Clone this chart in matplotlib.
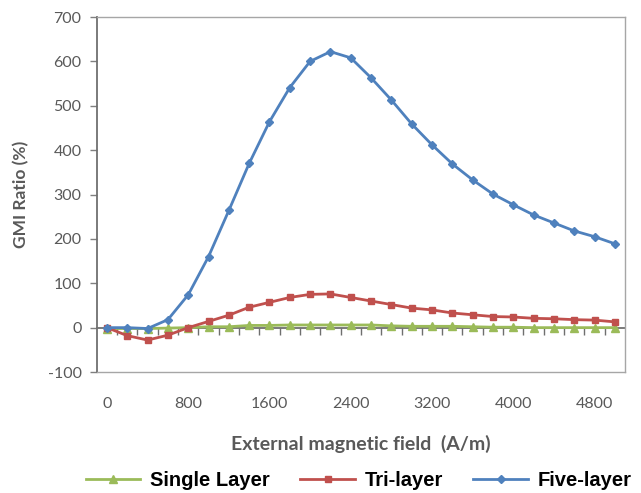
import matplotlib
matplotlib.use("Agg")
import matplotlib.pyplot as plt
import numpy as np

plt.rcParams["axes.unicode_minus"] = False
plt.rcParams["font.family"] = ["Lato", "DejaVu Sans"]

# field values (A/m), one category per 200 A/m
field = list(range(0, 5001, 200))
tick_labels = ["0", "800", "1600", "2400", "3200", "4000", "4800"]

single = [-2, -2, -2, -1, 0, 2, 2, 5, 5, 6, 6, 6, 6, 6, 4, 3, 3, 3, 2, 1, 1, 0, 0, 0, 0, 0]
tri = [0, -18, -28, -17, 0, 14, 28, 46, 57, 68, 75, 76, 68, 60, 52, 44, 40, 33, 29, 25,
       24, 21, 20, 18, 17, 13]
five = [0, 0, -2, 18, 74, 160, 264, 370, 464, 541, 600, 622, 608, 563, 513, 459, 412,
        369, 333, 301, 277, 254, 236, 218, 205, 189]

GREEN = "#9BBB59"
RED = "#C0504D"
BLUE = "#4F81BD"
TXT = "#595959"

fig = plt.figure(figsize=(6.41, 4.93), dpi=100)
ax = fig.add_axes([0.151, 0.2454, 0.824, 0.7201])

idx = np.arange(len(field))
ax.plot(idx, single, color=GREEN, lw=2, marker="^", ms=5.5, label="Single Layer")
ax.plot(idx, tri, color=RED, lw=2, marker="s", ms=4.5, label="Tri-layer")
ax.plot(idx, five, color=BLUE, lw=2, marker="D", ms=4.5, label="Five-layer")

ax.set_xlim(-0.5, len(field) - 0.5)
ax.set_ylim(-100, 700)
ax.set_yticks(range(-100, 701, 100))

pos = [field.index(int(t)) for t in tick_labels]
ax.set_xticks(pos)
ax.set_xticklabels(tick_labels)
ax.tick_params(axis="x", length=0, pad=18, labelsize=11.5, labelcolor=TXT)
ax.tick_params(axis="y", direction="out", length=5, width=1, color="#7f7f7f",
               labelsize=11.5, labelcolor=TXT, pad=6)

for s in ["top", "right", "bottom"]:
    ax.spines[s].set_color("#a6a6a6")
    ax.spines[s].set_linewidth(1)
ax.spines["left"].set_color("#6f6f6f")
ax.spines["left"].set_linewidth(1.3)

# horizontal axis line at y=0 with category tick marks
frac0 = (0 - (-100)) / 800
sec = ax.secondary_xaxis(frac0)
sec.set_xticks(idx[:-1] + 0.5)
sec.set_xticklabels([])
sec.tick_params(direction="out", length=5, width=1, color="#6f6f6f")
sec.spines["bottom"].set_color("#6f6f6f")
sec.spines["bottom"].set_linewidth(1.3)

ax.set_ylabel("GMI Ratio (%)", fontsize=12.5, fontweight="bold", color=TXT, labelpad=13)
ax.set_xlabel("External magnetic field  (A/m)", fontsize=14, fontweight="bold",
              color=TXT, labelpad=17)

fig.legend(*ax.get_legend_handles_labels(), loc="center", bbox_to_anchor=(0.56, 0.026),
           ncol=3, frameon=False, handlelength=2.7, columnspacing=1.5, handletextpad=0.5,
           prop={"family": "Liberation Sans", "weight": "bold", "size": 14.5})

fig.savefig("out.png", dpi=100)
